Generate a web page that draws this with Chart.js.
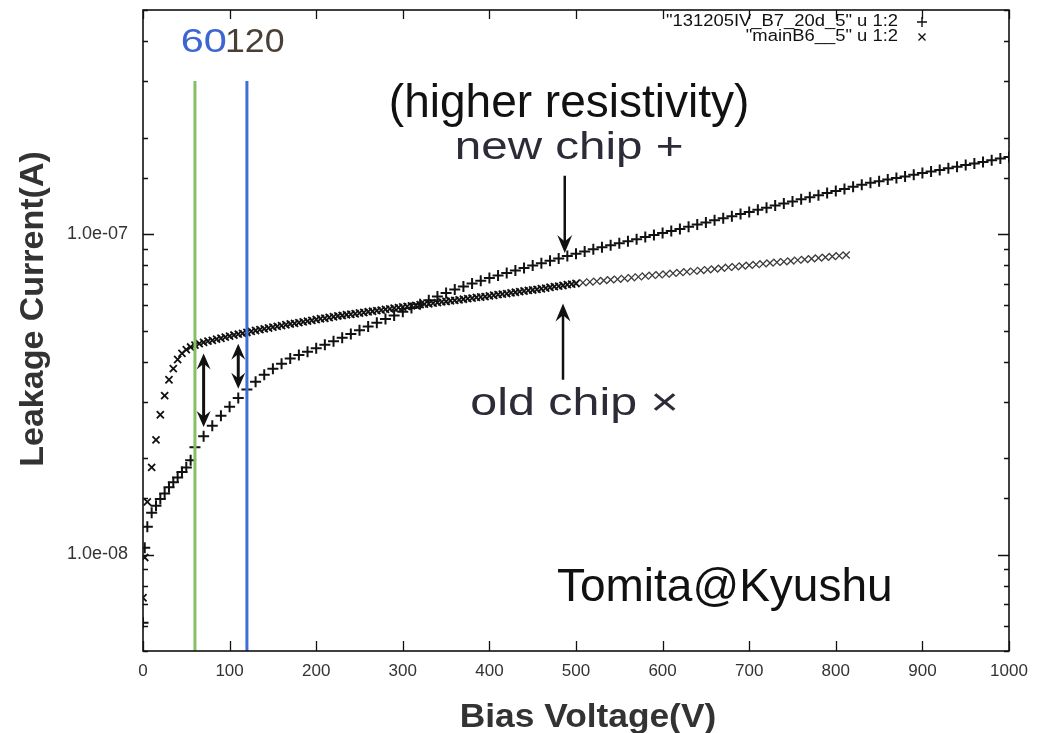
<!DOCTYPE html>
<html>
<head>
<meta charset="utf-8">
<title>Leakage current vs bias voltage</title>
<script src="https://cdn.jsdelivr.net/npm/chart.js@4.4.1/dist/chart.umd.min.js"></script>
<style>
  html, body { margin: 0; padding: 0; background: #fff; }
</style>
</head>
<body>
<canvas id="ivChart" width="1043" height="733"></canvas>
<script>
// new chip (higher resistivity): bias voltage [V] and leakage current [A]
const newChipLabel = '"131205IV_B7_20d_5" u 1:2';
const newChipV = [
  0, 2, 5, 10, 15, 20, 25, 30, 35, 40, 45, 50, 55,
  60, 70, 80, 90, 100, 110, 120, 130, 140, 150,
  160, 170, 180, 190, 200, 210, 220, 230, 240, 250,
  260, 270, 280, 290, 300, 310, 320, 330, 340, 350,
  360, 370, 380, 390, 400, 410, 420, 430, 440, 450,
  460, 470, 480, 490, 500, 510, 520, 530, 540, 550,
  560, 570, 580, 590, 600, 610, 620, 630, 640, 650,
  660, 670, 680, 690, 700, 710, 720, 730, 740, 750,
  760, 770, 780, 790, 800, 810, 820, 830, 840, 850,
  860, 870, 880, 890, 900, 910, 920, 930, 940, 950,
  960, 970, 980, 990, 1000
];
const newChipI = [
  6.12e-9, 1.05e-8, 1.22e-8, 1.35e-8, 1.42e-8, 1.49e-8, 1.55e-8, 1.62e-8, 1.68e-8, 1.74e-8, 1.81e-8, 1.87e-8, 1.97e-8,
  2.16e-8, 2.34e-8, 2.52e-8, 2.71e-8, 2.89e-8, 3.08e-8, 3.27e-8, 3.46e-8, 3.64e-8, 3.80e-8,
  3.94e-8, 4.09e-8, 4.19e-8, 4.29e-8, 4.40e-8, 4.51e-8, 4.63e-8, 4.75e-8, 4.88e-8, 5.01e-8,
  5.15e-8, 5.29e-8, 5.43e-8, 5.57e-8, 5.72e-8, 5.88e-8, 6.04e-8, 6.21e-8, 6.38e-8, 6.55e-8,
  6.71e-8, 6.86e-8, 7.01e-8, 7.15e-8, 7.29e-8, 7.42e-8, 7.56e-8, 7.69e-8, 7.83e-8, 7.97e-8,
  8.11e-8, 8.25e-8, 8.39e-8, 8.54e-8, 8.68e-8, 8.82e-8, 8.96e-8, 9.10e-8, 9.23e-8, 9.36e-8,
  9.50e-8, 9.63e-8, 9.78e-8, 9.93e-8, 1.007e-7, 1.022e-7, 1.037e-7, 1.053e-7, 1.070e-7, 1.086e-7,
  1.103e-7, 1.120e-7, 1.137e-7, 1.154e-7, 1.172e-7, 1.190e-7, 1.208e-7, 1.227e-7, 1.245e-7, 1.264e-7,
  1.284e-7, 1.303e-7, 1.322e-7, 1.342e-7, 1.362e-7, 1.383e-7, 1.404e-7, 1.424e-7, 1.445e-7, 1.462e-7,
  1.479e-7, 1.496e-7, 1.513e-7, 1.531e-7, 1.549e-7, 1.567e-7, 1.585e-7, 1.603e-7, 1.622e-7, 1.641e-7,
  1.660e-7, 1.679e-7, 1.699e-7, 1.719e-7, 1.738e-7
];

// old chip
const oldChipLabel = '"mainB6__5" u 1:2';
const oldChipV = [
  0, 2, 5, 10, 15, 20, 25, 30, 35, 40, 45, 50, 55,
  60, 65, 70, 75, 80, 85, 90, 95, 100, 105,
  110, 115, 120, 125, 130, 135, 140, 145, 150, 155,
  160, 165, 170, 175, 180, 185, 190, 195, 200, 205,
  210, 215, 220, 225, 230, 235, 240, 245, 250, 255,
  260, 265, 270, 275, 280, 285, 290, 295, 300, 305,
  310, 315, 320, 325, 330, 335, 340, 345, 350, 355,
  360, 365, 370, 375, 380, 385, 390, 395, 400, 405,
  410, 415, 420, 425, 430, 435, 440, 445, 450, 455,
  460, 465, 470, 475, 480, 485, 490, 495, 500,
  508, 516, 524, 532, 540, 548, 556, 564, 572, 580,
  588, 596, 604, 612, 620, 628, 636, 644, 652, 660,
  668, 676, 684, 692, 700, 708, 716, 724, 732, 740,
  748, 756, 764, 772, 780, 788, 796, 804, 812
];
const oldChipI = [
  7.33e-9, 9.79e-9, 1.46e-8, 1.87e-8, 2.28e-8, 2.73e-8, 3.13e-8, 3.51e-8, 3.80e-8, 4.06e-8, 4.24e-8, 4.36e-8, 4.44e-8,
  4.50e-8, 4.55e-8, 4.59e-8, 4.63e-8, 4.66e-8, 4.70e-8, 4.73e-8, 4.77e-8, 4.80e-8, 4.84e-8,
  4.87e-8, 4.90e-8, 4.93e-8, 4.97e-8, 5.00e-8, 5.03e-8, 5.06e-8, 5.09e-8, 5.12e-8, 5.15e-8,
  5.18e-8, 5.21e-8, 5.24e-8, 5.26e-8, 5.29e-8, 5.32e-8, 5.35e-8, 5.38e-8, 5.41e-8, 5.44e-8,
  5.46e-8, 5.49e-8, 5.52e-8, 5.55e-8, 5.57e-8, 5.60e-8, 5.62e-8, 5.64e-8, 5.67e-8, 5.69e-8,
  5.72e-8, 5.74e-8, 5.77e-8, 5.79e-8, 5.82e-8, 5.84e-8, 5.87e-8, 5.89e-8, 5.92e-8, 5.94e-8,
  5.97e-8, 5.99e-8, 6.02e-8, 6.04e-8, 6.06e-8, 6.09e-8, 6.11e-8, 6.14e-8, 6.16e-8, 6.19e-8,
  6.21e-8, 6.23e-8, 6.26e-8, 6.29e-8, 6.31e-8, 6.34e-8, 6.36e-8, 6.38e-8, 6.41e-8, 6.44e-8,
  6.47e-8, 6.49e-8, 6.52e-8, 6.55e-8, 6.58e-8, 6.61e-8, 6.64e-8, 6.67e-8, 6.69e-8, 6.72e-8,
  6.75e-8, 6.78e-8, 6.82e-8, 6.85e-8, 6.88e-8, 6.91e-8, 6.95e-8, 6.98e-8, 7.01e-8,
  7.05e-8, 7.09e-8, 7.12e-8, 7.16e-8, 7.20e-8, 7.23e-8, 7.27e-8, 7.31e-8, 7.35e-8, 7.39e-8,
  7.43e-8, 7.46e-8, 7.50e-8, 7.54e-8, 7.58e-8, 7.62e-8, 7.66e-8, 7.70e-8, 7.74e-8, 7.78e-8,
  7.82e-8, 7.87e-8, 7.91e-8, 7.95e-8, 7.99e-8, 8.03e-8, 8.07e-8, 8.12e-8, 8.16e-8, 8.20e-8,
  8.24e-8, 8.29e-8, 8.33e-8, 8.37e-8, 8.42e-8, 8.46e-8, 8.51e-8, 8.55e-8, 8.60e-8
];

// vertical guides at 60 V and 120 V
const guideV = [60, 120];
const guideText = ['60', '120'];
const guideTop = 3.0e-7;

// axis ranges and labelled decades
const xMin = 0, xMax = 1000, xStep = 100;
const yMin = 5e-9, yMax = 5e-7;
const yTickValues = [1e-8, 1e-7];
const yTickLabels = ['1.0e-08', '1.0e-07'];

const FONT = "'Liberation Sans', Arial, Helvetica, sans-serif";

// annotation arrows (voltage, current from -> current to)
const arrows = [
  { v: 487, from: 1.52e-7, to: 8.72e-8, both: false },
  { v: 485, from: 3.51e-8, to: 6.07e-8, both: false },
  { v: 70, from: 4.24e-8, to: 2.50e-8, both: true },
  { v: 110, from: 4.55e-8, to: 3.29e-8, both: true }
];

// free text placed in data coordinates
const notes = [
  { text: '(higher resistivity)', v: 492, i: 2.31e-7, size: 46, color: '#111', align: 'center', sx: 1 },
  { text: 'new chip +', v: 360, i: 1.718e-7, size: 39, color: '#2c2c38', align: 'left', sx: 1.22 },
  { text: 'old chip \u00d7', v: 378, i: 2.727e-8, size: 39, color: '#2c2c38', align: 'left', sx: 1.24 },
  { text: 'Tomita@Kyushu', v: 478, i: 7.17e-9, size: 46, color: '#111', align: 'left', sx: 1 }
];

function toPoints(xs, ys) {
  return xs.map((v, k) => ({ x: v, y: ys[k] }));
}

function isDecade(v) {
  const lg = Math.log10(v);
  return Math.abs(lg - Math.round(lg)) < 1e-6;
}

function drawText(ctx, str, x, y, sx, align) {
  ctx.save();
  ctx.translate(x, y);
  ctx.scale(sx, 1);
  ctx.textAlign = align;
  ctx.fillText(str, 0, 0);
  ctx.restore();
}

function arrowHead(ctx, x, tipY, dir, w, h) {
  ctx.beginPath();
  ctx.moveTo(x, tipY);
  ctx.lineTo(x - w / 2, tipY - dir * h);
  ctx.lineTo(x, tipY - dir * h * 0.65);
  ctx.lineTo(x + w / 2, tipY - dir * h);
  ctx.closePath();
  ctx.fill();
}

// keep the plot box exactly where the axes say, no extra label padding
function noPadding(s) {
  s.paddingTop = 0;
  s.paddingBottom = 0;
  s.paddingLeft = 0;
  s.paddingRight = 0;
}

// gnuplot style box with inward ticks on all four sides
const framePlugin = {
  id: 'frame',
  afterDatasetsDraw(chart) {
    const { ctx, chartArea: a, scales: { x, y } } = chart;
    ctx.save();
    ctx.strokeStyle = '#111';
    ctx.lineWidth = 1.6;
    ctx.strokeRect(a.left, a.top, a.right - a.left, a.bottom - a.top);
    ctx.lineWidth = 1.3;
    ctx.beginPath();
    x.ticks.forEach(t => {
      const px = Math.round(x.getPixelForValue(t.value)) + 0.5;
      ctx.moveTo(px, a.bottom); ctx.lineTo(px, a.bottom - 10);
      ctx.moveTo(px, a.top); ctx.lineTo(px, a.top + 9);
    });
    y.ticks.forEach(t => {
      const len = isDecade(t.value) ? 11 : 5;
      const py = Math.round(y.getPixelForValue(t.value)) + 0.5;
      ctx.moveTo(a.left, py); ctx.lineTo(a.left + len, py);
      ctx.moveTo(a.right, py); ctx.lineTo(a.right - len, py);
    });
    ctx.stroke();
    ctx.restore();
  }
};

// captions, arrows, key and axis titles
const notesPlugin = {
  id: 'notes',
  afterDraw(chart) {
    const { ctx, chartArea: a, scales: { x, y } } = chart;
    ctx.save();

    // guide captions: "60" ends where "120" begins
    const split = x.getPixelForValue((guideV[0] + guideV[1]) / 2) + 6;
    const capY = y.getPixelForValue(3.69e-7);
    ctx.font = '34px ' + FONT;
    ctx.textBaseline = 'alphabetic';
    ctx.fillStyle = '#3d66d3';
    drawText(ctx, guideText[0], split, capY, 1.22, 'right');
    ctx.fillStyle = '#4a3f34';
    drawText(ctx, guideText[1], split - 2, capY, 1.05, 'left');

    notes.forEach(n => {
      ctx.font = n.size + 'px ' + FONT;
      ctx.fillStyle = n.color;
      drawText(ctx, n.text, x.getPixelForValue(n.v), y.getPixelForValue(n.i), n.sx, n.align);
    });

    ctx.fillStyle = '#111';
    ctx.strokeStyle = '#111';
    arrows.forEach(ar => {
      const px = x.getPixelForValue(ar.v);
      const y0 = y.getPixelForValue(ar.from);
      const y1 = y.getPixelForValue(ar.to);
      const dir = Math.sign(y1 - y0);
      const w = ar.both ? 14 : 15;
      const h = ar.both ? 16 : 18;
      ctx.lineWidth = ar.both ? 3 : 2.5;
      ctx.beginPath();
      ctx.moveTo(px, ar.both ? y0 + dir * h * 0.6 : y0);
      ctx.lineTo(px, y1 - dir * h * 0.6);
      ctx.stroke();
      arrowHead(ctx, px, y1, dir, w, h);
      if (ar.both) arrowHead(ctx, px, y0, -dir, w, h);
    });

    // key in the top right corner
    ctx.font = '16px ' + FONT;
    ctx.fillStyle = '#111';
    ctx.textBaseline = 'middle';
    const series = chart.data.datasets.filter(d => d.keyMark);
    series.forEach((d, k) => {
      const ly = a.top + 12 + k * 15;
      drawText(ctx, d.label, a.right - 111, ly, 1.15, 'right');
      const mx = a.right - 87;
      ctx.lineWidth = 1.4;
      ctx.beginPath();
      if (d.keyMark === '+') {
        ctx.moveTo(mx - 5, ly); ctx.lineTo(mx + 5, ly);
        ctx.moveTo(mx, ly - 5); ctx.lineTo(mx, ly + 5);
      } else {
        ctx.moveTo(mx - 3.5, ly - 3.5); ctx.lineTo(mx + 3.5, ly + 3.5);
        ctx.moveTo(mx - 3.5, ly + 3.5); ctx.lineTo(mx + 3.5, ly - 3.5);
      }
      ctx.stroke();
    });

    // axis titles
    ctx.fillStyle = '#333';
    ctx.font = 'bold 33px ' + FONT;
    ctx.textBaseline = 'alphabetic';
    drawText(ctx, 'Bias Voltage(V)', a.left + 445, 727, 1.07, 'center');
    ctx.font = 'bold 34px ' + FONT;
    ctx.save();
    ctx.translate(a.left - 100, a.top + 299);
    ctx.rotate(-Math.PI / 2);
    ctx.textAlign = 'center';
    ctx.fillText('Leakage Current(A)', 0, 0);
    ctx.restore();

    ctx.restore();
  }
};

new Chart(document.getElementById('ivChart'), {
  type: 'scatter',
  data: {
    datasets: [
      {
        label: newChipLabel,
        keyMark: '+',
        data: toPoints(newChipV, newChipI),
        pointStyle: 'cross',
        pointRadius: 5.5,
        borderColor: '#111',
        borderWidth: 2,
        order: 2
      },
      {
        label: oldChipLabel,
        keyMark: 'x',
        data: toPoints(oldChipV, oldChipI),
        pointStyle: 'crossRot',
        pointRadius: 5,
        // the finely stepped part below 500 V prints as a solid band
        borderColor: c => (c.raw && c.raw.x <= 500 ? '#111' : '#3a3a3a'),
        borderWidth: c => (c.raw && c.raw.x <= 500 ? 1.8 : 1.3),
        order: 1
      },
      {
        label: 'guide 60',
        data: [{ x: guideV[0], y: guideTop }, { x: guideV[0], y: yMin }],
        showLine: true,
        borderColor: '#86bf66',
        borderWidth: 3,
        pointRadius: 0,
        order: 0
      },
      {
        label: 'guide 120',
        data: [{ x: guideV[1], y: guideTop }, { x: guideV[1], y: yMin }],
        showLine: true,
        borderColor: '#3f6fd6',
        borderWidth: 3,
        pointRadius: 0,
        order: 0
      }
    ]
  },
  options: {
    responsive: false,
    animation: false,
    events: [],
    layout: { padding: { top: 10, right: 34, bottom: 0, left: 0 } },
    plugins: {
      legend: { display: false },
      tooltip: { enabled: false }
    },
    scales: {
      x: {
        type: 'linear',
        min: xMin,
        max: xMax,
        grid: { display: false, drawTicks: false },
        border: { display: false },
        ticks: {
          stepSize: xStep,
          padding: 10,
          maxRotation: 0,
          color: '#333',
          font: { family: FONT, size: 17 },
          callback: value => String(value)
        },
        afterFit: s => { s.height = 82; noPadding(s); }
      },
      y: {
        type: 'logarithmic',
        min: yMin,
        max: yMax,
        grid: { display: false, drawTicks: false },
        border: { display: false },
        ticks: {
          autoSkip: false,
          padding: 15,
          color: '#333',
          font: { family: FONT, size: 18 },
          callback: value => {
            const k = yTickValues.findIndex(t => Math.abs(value / t - 1) < 1e-6);
            return k >= 0 ? yTickLabels[k] : '';
          }
        },
        afterFit: s => { s.width = 143; noPadding(s); }
      }
    }
  },
  plugins: [framePlugin, notesPlugin]
});
</script>
</body>
</html>
